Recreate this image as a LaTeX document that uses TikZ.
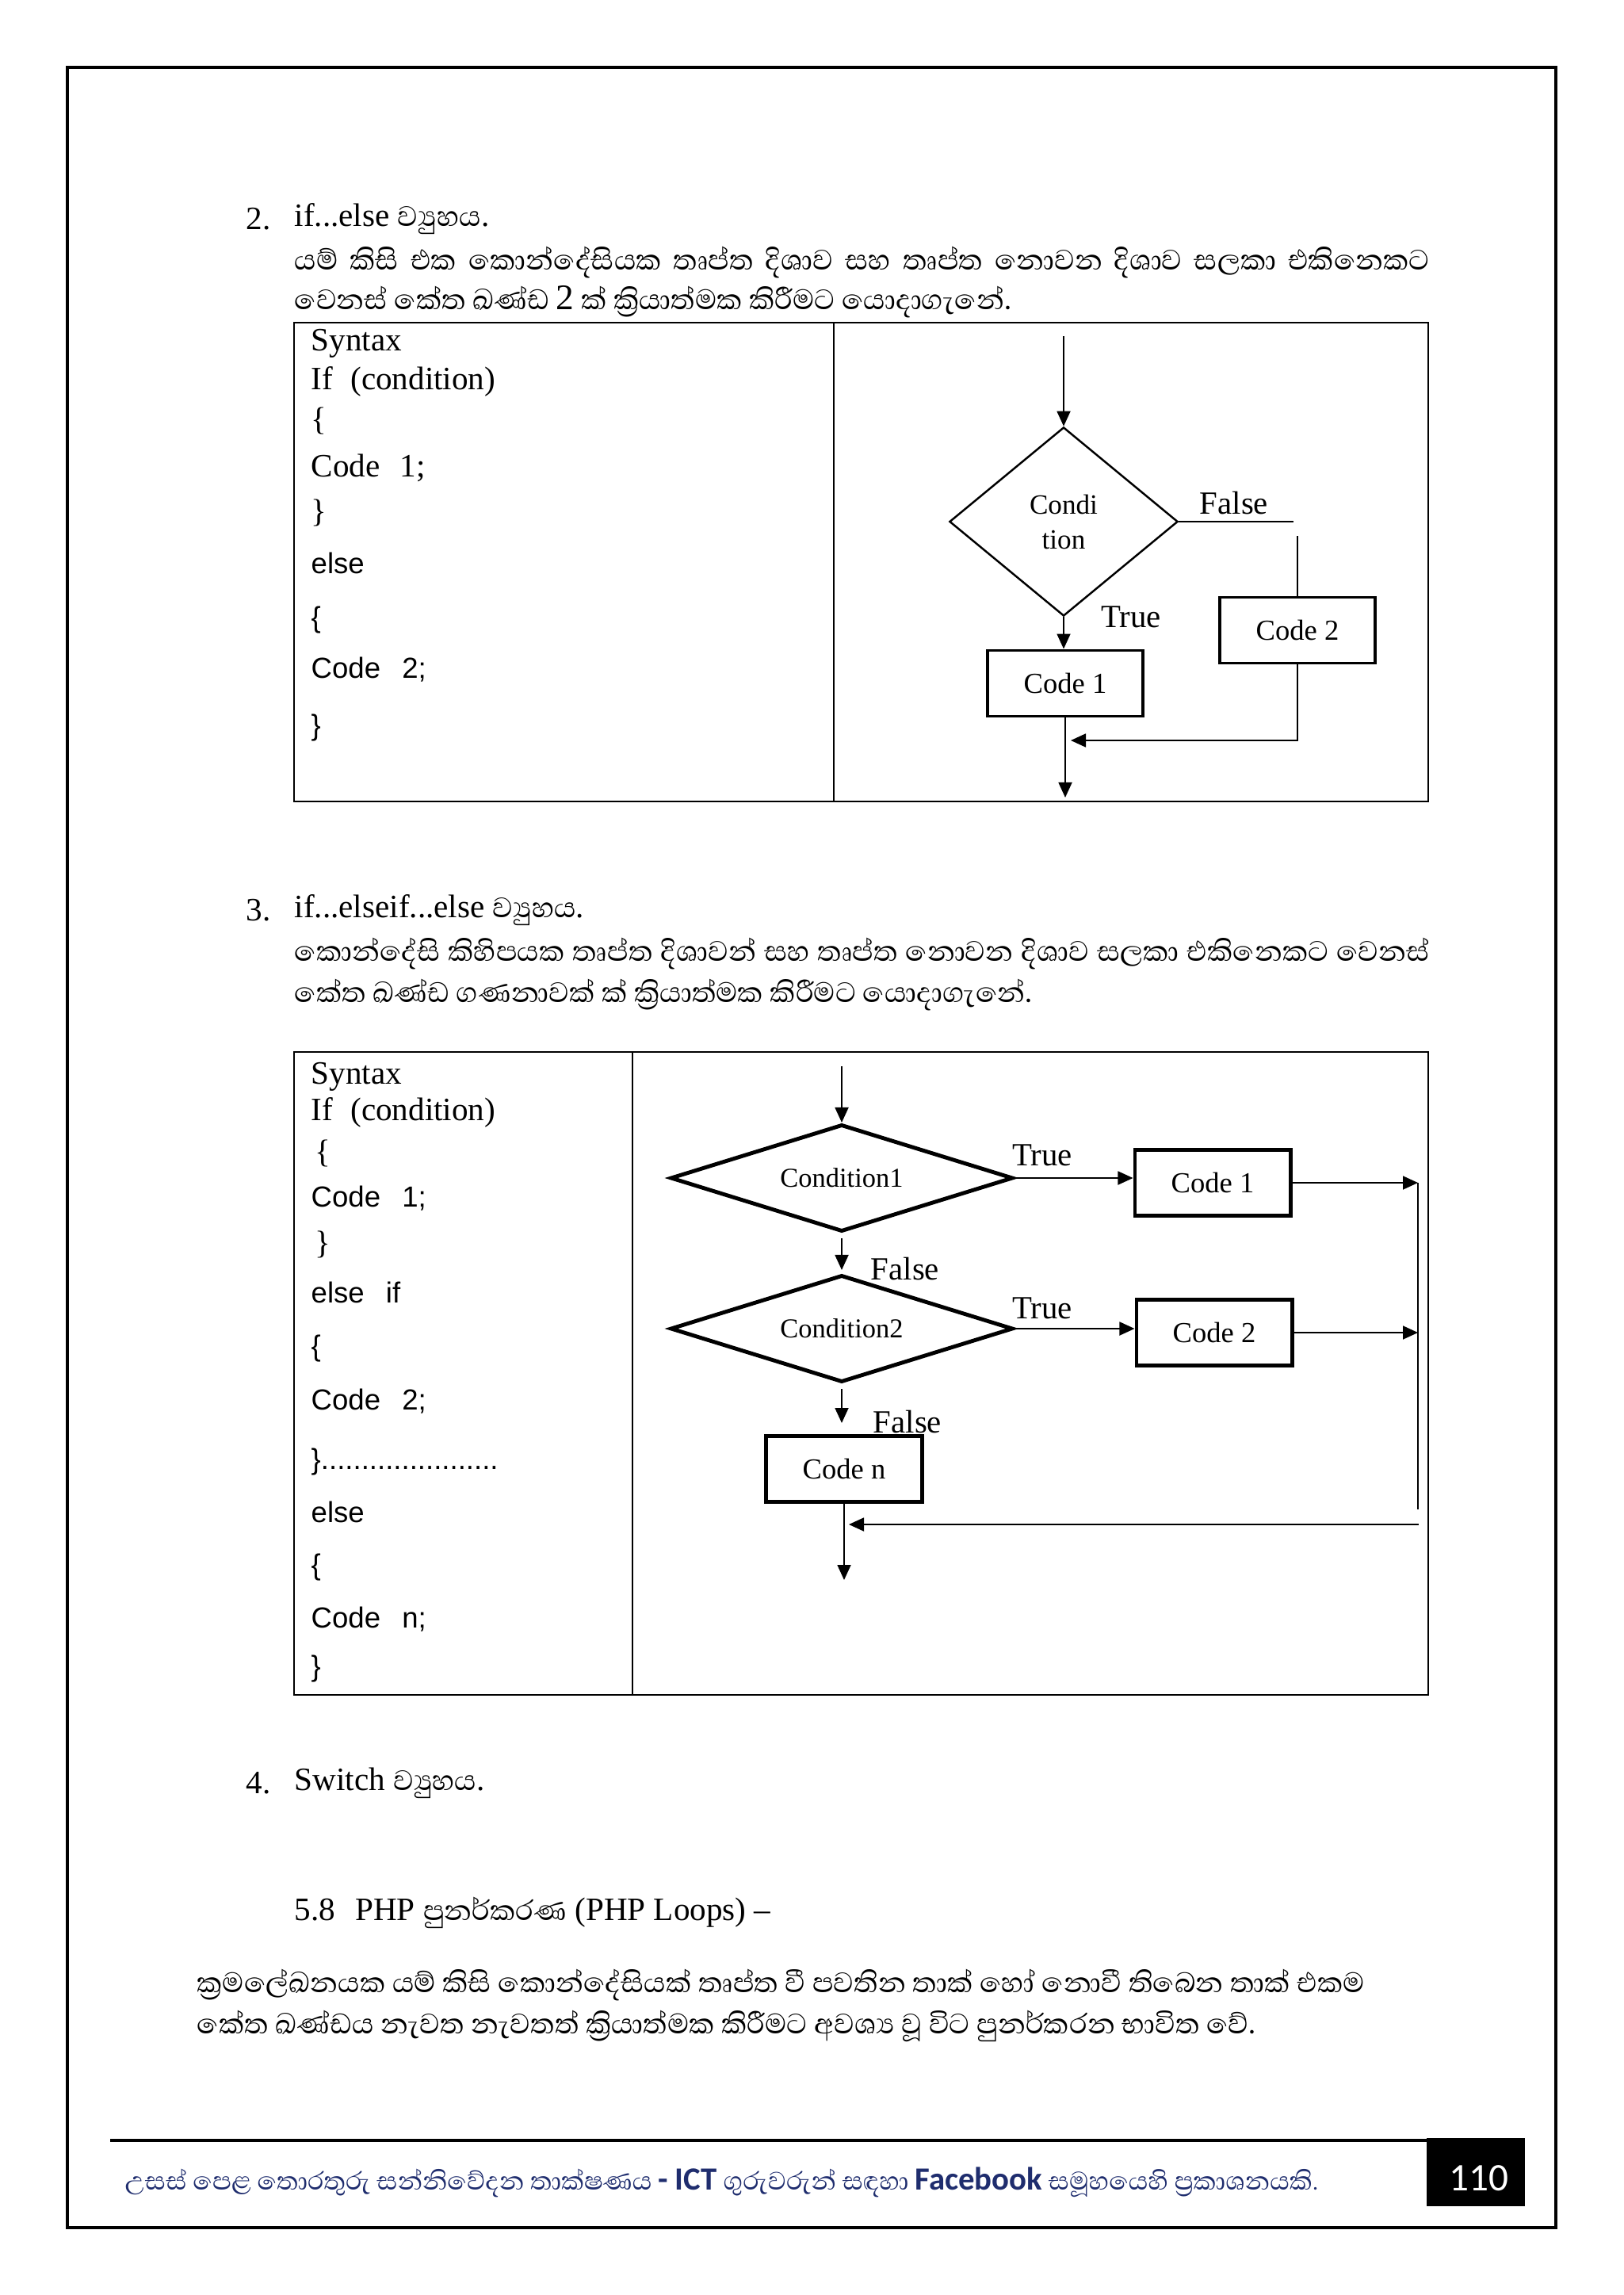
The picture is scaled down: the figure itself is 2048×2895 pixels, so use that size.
\documentclass[tikz,border=0pt]{standalone}
\usepackage{fontspec}
\setmainfont{Liberation Serif}
\newfontfamily\tms{Liberation Serif}
\newfontfamily\sinfont[Script=Sinhala]{Abhaya Libre}
\newfontfamily\arial{Liberation Sans}
\newfontfamily\calib{Carlito}
\usetikzlibrary{positioning, shapes.geometric, arrows.meta}
\definecolor{footblue}{RGB}{31,45,110}

\begin{document}
\begin{tikzpicture}[x=0.01cm, y=-0.01cm,
  txt/.style={anchor=west, inner sep=0pt, font=\fontsize{11.7}{14}\selectfont},
  snh/.style={anchor=west, inner sep=0pt, font=\sinfont\fontsize{12.9}{16}\selectfont},
  cod/.style={anchor=west, inner sep=0pt, font=\arial\fontsize{10.4}{12}\selectfont},
  cond/.style={diamond, draw, inner sep=0pt, align=center},
  codebox/.style={rectangle, draw, inner sep=0pt, minimum width=1.96cm, minimum height=0.83cm, font=\fontsize{10.4}{12}\selectfont},
  lbl/.style={inner sep=0pt, font=\fontsize{11.6}{14}\selectfont},
  arr/.style={-{Triangle[length=0.19cm,width=0.17cm]}, line width=0.5pt}]
\useasboundingbox (0,0) rectangle (2048,2895);
% page frame
\draw[line width=1.4pt] (85,85) rectangle (1963,2810);

% 2. if...else
\node[txt] (h2n) at (310,276) {2.};
\node[txt] (h2) at (371,276) {if...else {\sinfont\fontsize{12.9}{16}\selectfont ව්‍යුහය}.};
\node[snh] (s2a) at (371,331) {\makebox[14.31cm][s]{යම් කිසි එක කොන්දේසියක තෘප්ත දිශාව සහ තෘප්ත නොවන දිශාව සලකා එකිනෙකට}};
\node[snh] (s2b) at (371,381) {වෙනස් කේත ඛණ්ඩ {\tms 2} ක් ක්‍රියාත්මක කිරීමට යොදාගැනේ.};

\draw[line width=0.6pt] (371,407) rectangle (1802,1011);
\draw[line width=0.6pt] (1052,407) -- (1052,1011);

\node[txt] (t1a) at (392,433) {Syntax};
\node[txt] (t1b) at (392,481) {If\hspace{0.12cm} (condition)};
\node[txt] (t1c) at (392,531) {\{};
\node[txt] (t1d) at (392,590) {Code\hspace{0.15cm} 1;};
\node[txt] (t1e) at (392,647) {\}};
\node[cod] (t1f) at (392,710) {else};
\node[cod] (t1g) at (392,782) {\{};
\node[cod] (t1h) at (392,845) {Code\hspace{0.17cm} 2;};
\node[cod] (t1i) at (392,918) {\}};

% flow chart if...else
\coordinate (in1) at (1342,424);
\node[cond, aspect=1.2, line width=0.7pt, minimum width=2.88cm, minimum height=2.38cm,
  font=\fontsize{10}{12.5}\selectfont] (cnd) at (1342,658) {Condi\\tion};
\node[codebox, line width=1.1pt] (cd1) at (1344,862) {Code 1};
\node[codebox, line width=1.1pt] (cd2) at (1637,795) {Code 2};
\node[lbl] (fl1) at (1557,635) {False};
\node[lbl] (tr1) at (1427,778) {True};
\coordinate (fe) at (1632,658);
\coordinate (fv) at (1637,676);
\coordinate (out1) at (1346,1006);
\coordinate (rt) at (1351,934);

\draw[arr] (in1) -- (cnd.north);
\draw[arr] (cnd.south) -- (cnd.south |- cd1.north);
\draw[line width=0.5pt] (cnd.east) -- (fe);
\draw[line width=0.5pt] (fv) -- (fv |- cd2.north);
\draw[arr] (cd1.south) -- (cd1.south |- out1);
\draw[arr] (cd2.south) |- (rt);

% 3. if...elseif...else
\node[txt] (h3n) at (310,1148) {3.};
\node[txt] (h3) at (371,1148) {if...elseif...else {\sinfont\fontsize{12.9}{16}\selectfont ව්‍යුහය}.};
\node[snh] (s3a) at (371,1203) {\makebox[14.31cm][s]{කොන්දේසි කිහිපයක තෘප්ත දිශාවන් සහ තෘප්ත නොවන දිශාව සලකා එකිනෙකට වෙනස්}};
\node[snh] (s3b) at (371,1255) {කේත ඛණ්ඩ ගණනාවක් ක් ක්‍රියාත්මක කිරීමට යොදාගැනේ.};

\draw[line width=0.6pt] (371,1327) rectangle (1802,2138);
\draw[line width=0.6pt] (798,1327) -- (798,2138);

\node[txt] (t2a) at (392,1358) {Syntax};
\node[txt] (t2b) at (392,1403) {If\hspace{0.12cm} (condition)};
\node[txt] (t2c) at (397,1455) {\{};
\node[cod] (t2d) at (392,1512) {Code\hspace{0.17cm} 1;};
\node[txt] (t2e) at (397,1570) {\}};
\node[cod] (t2f) at (392,1630) {else\hspace{0.17cm} if};
\node[cod] (t2g) at (392,1701) {\{};
\node[cod] (t2h) at (392,1768) {Code\hspace{0.17cm} 2;};
\node[cod] (t2i) at (392,1844) {\}......................};
\node[cod] (t2j) at (392,1907) {else};
\node[cod] (t2k) at (392,1977) {\{};
\node[cod] (t2l) at (392,2043) {Code\hspace{0.17cm} n;};
\node[cod] (t2m) at (392,2105) {\}};

% flow chart if...elseif...else
\coordinate (in2) at (1062,1345);
\node[cond, aspect=3.2, line width=1.4pt, minimum width=4.32cm, minimum height=1.35cm,
  font=\fontsize{9.8}{12}\selectfont] (c1) at (1062,1486) {Condition1};
\node[cond, aspect=3.2, line width=1.4pt, minimum width=4.32cm, minimum height=1.35cm,
  font=\fontsize{9.8}{12}\selectfont] (c2) at (1062,1676) {Condition2};
\node[codebox, line width=1.4pt] (cb1) at (1530,1492) {Code 1};
\node[codebox, line width=1.4pt] (cb2) at (1532,1681) {Code 2};
\node[codebox, line width=1.4pt] (cbn) at (1065,1853) {Code n};
\node[lbl] (tr2) at (1315,1457) {True};
\node[lbl] (fl2) at (1142,1601) {False};
\node[lbl] (tr3) at (1315,1650) {True};
\node[lbl] (fl3) at (1145,1794) {False};
\coordinate (r1) at (1789,1492);
\coordinate (rv) at (1789,1904);
\coordinate (rb) at (1790,1923);
\coordinate (rtip) at (1071,1923);
\coordinate (nd) at (1062,1795);
\coordinate (out2) at (1066,1993);

\draw[arr] (in2) -- (c1.north);
\draw[arr] (c1.east) -- (c1.east -| cb1.west);
\draw[arr] (cb1.east) -- (cb1.east -| r1);
\draw[line width=0.7pt] (r1) -- (rv);
\draw[arr, shorten <=0.06cm, shorten >=0.04cm] (c1.south) -- (c2.north);
\draw[arr] (c2.east) -- (c2.east -| cb2.west);
\draw[arr] (cb2.east) -- (cb2.east -| r1);
\draw[arr, shorten <=0.06cm] (c2.south) -- (nd);
\draw[arr] (rb) -- (rtip);
\draw[arr] (cbn.south) -- (cbn.south |- out2);

% 4. Switch and 5.8
\node[txt] (h4n) at (310,2249) {4.};
\node[txt] (h4) at (371,2249) {Switch {\sinfont\fontsize{12.9}{16}\selectfont ව්‍යුහය}.};
\node[txt] (h58) at (371,2413) {5.8\hspace{0.15cm} PHP {\sinfont\fontsize{12.9}{16}\selectfont පුනර්කරණ} (PHP Loops) --};
\node[snh] (p1) at (248,2504) {ක්‍රමලේඛනයක යම් කිසි කොන්දේසියක් තෘප්ත වී පවතින තාක් හෝ නොවී තිබෙන තාක් එකම};
\node[snh] (p2) at (248,2556) {කේත ඛණ්ඩය නැවත නැවතත් ක්‍රියාත්මක කිරීමට අවශ්‍ය වූ විට පුනර්කරන භාවිත වේ.};

% footer
\draw[line width=1.4pt] (139,2700) -- (1800,2700);
\fill (1800,2697) rectangle (1924,2783);
\node[text=white, inner sep=0pt, font=\calib\fontsize{14}{16}\selectfont] (pg) at (1866,2748) {110};
\node[anchor=west, inner sep=0pt, text=footblue, font=\sinfont\fontsize{11.6}{13}\selectfont] (ft) at (157,2753)
  {උසස් පෙළ තොරතුරු සන්නිවේදන තාක්ෂණය {\calib\bfseries - ICT} ගුරුවරුන් සඳහා {\calib\bfseries Facebook} සමූහයෙහි ප්‍රකාශනයකි{\calib\fontsize{8}{10}\selectfont .}};
\end{tikzpicture}
\end{document}
